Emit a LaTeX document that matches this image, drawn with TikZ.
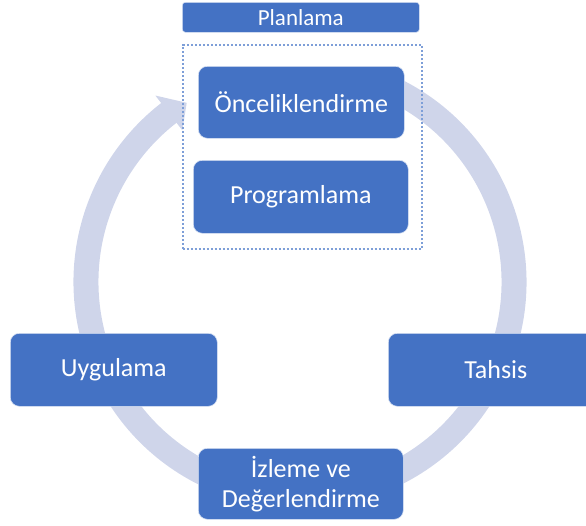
\documentclass[tikz,border=0pt]{standalone}
\usepackage{fontspec}
\setmainfont{Carlito}
\definecolor{boxblue}{HTML}{4472C4}
\definecolor{ringc}{HTML}{CFD5EA}
\definecolor{dotc}{HTML}{7E9FD8}
\begin{document}
\begin{tikzpicture}[x=1pt,y=1pt,
  stagebox/.style={draw=white!80!boxblue, line width=0.6pt, fill=boxblue, text=white, rounded corners=9pt,
    anchor=north west, inner sep=0pt, align=center, font=\fontsize{26}{30}\selectfont},
  headbox/.style={draw=white!80!boxblue, line width=0.6pt, fill=boxblue, text=white, rounded corners=3pt,
    anchor=north west, inner sep=0pt, font=\fontsize{23}{26}\selectfont},
  ringline/.style={draw=ringc, line width=25pt},
  groupbox/.style={draw=dotc, line width=2.4pt, dash pattern=on 2.2pt off 1.8pt}]
\clip (0,0) rectangle (586,-525);
% circular arrow
\begin{scope}[shift={(300,-282)}]
  \draw[ringline] (65:214) arc[start angle=65, end angle=-232.5, radius=214];
  \fill[ringc] (127.8:236) -- (122.3:212) -- (127.8:192) -- cycle;
\end{scope}
% group box
\node[groupbox, anchor=north west, minimum width=239pt, minimum height=204pt, inner sep=0pt] (grp) at (181.5,-44) {};
% nodes
\node[headbox, minimum width=237pt, minimum height=30pt] (plan) at (182,-2) {Planlama};
\node[stagebox, minimum width=206pt, minimum height=72pt] (onc) at (198,-66) {Önceliklendirme};
\node[stagebox, minimum width=215pt, minimum height=73pt] (prog) at (193,-160) {Programlama};
\node[stagebox, minimum width=207pt, minimum height=73pt] (uyg) at (10,-333) {Uygulama};
\node[stagebox, minimum width=215pt, minimum height=73pt] (tah) at (388,-333) {Tahsis};
\node[stagebox, minimum width=205pt, minimum height=71pt] (izl) at (198,-448) {İzleme ve\\Değerlendirme};
\end{tikzpicture}
\end{document}
